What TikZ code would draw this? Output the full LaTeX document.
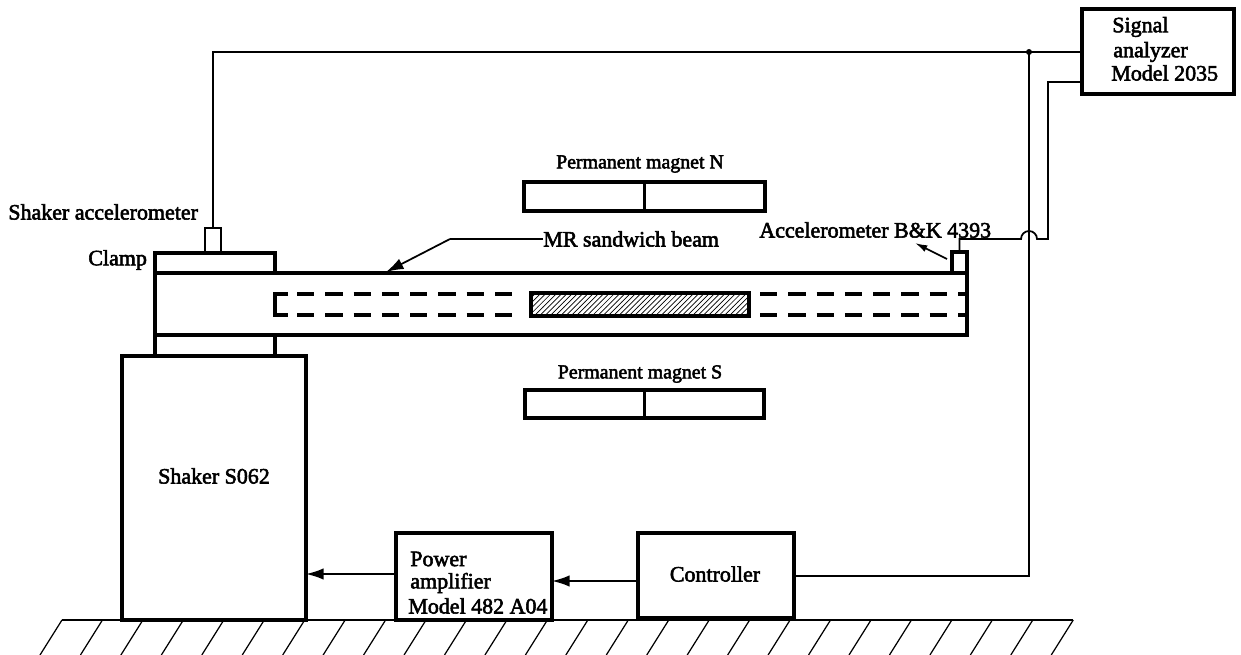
\documentclass[tikz,border=0pt]{standalone}
\usepackage{fontspec}
\setmainfont{Liberation Serif}[RawFeature={embolden=2.5}]
\usetikzlibrary{arrows.meta,patterns}
\tikzset{
	box/.style={draw, line width=2.1pt, inner sep=0pt, outer sep=0pt, anchor=north west},
	thinbox/.style={draw, line width=0.9pt, inner sep=0pt, outer sep=0pt, anchor=north west},
	beam/.style={line width=2.1pt},
	dashslot/.style={draw, line width=1.9pt, dash pattern=on 9.8pt off 6.3pt},
	wire/.style={line width=1pt},
	pointer/.style={line width=1pt, -{Latex[length=10pt,width=6.5pt]}},
	ground/.style={line width=0.7pt},
	lbl/.style={font=\fontsize{12.5pt}{14pt}\selectfont, inner sep=0pt},
	lblleft/.style={lbl, anchor=west},
	maglbl/.style={lbl, font=\fontsize{11.3pt}{14pt}\selectfont}
}
\begin{document}
\begin{tikzpicture}[x=0.02cm, y=-0.02cm]
\useasboundingbox (0,0) rectangle (1241,655);

% ground
\draw[ground] (62,620) -- (1073,620);
\foreach \x in {62,102.45,...,1073.5}
{
	\draw[ground] (\x,620) -- (\x-22,655);
}

% boxes
\node[box, minimum width=152*0.02cm, minimum height=85*0.02cm] (analyzer) at (1082,9) {};
\node[box, minimum width=184*0.02cm, minimum height=264*0.02cm] (shaker) at (122,356) {};
\node[box, minimum width=156*0.02cm, minimum height=87*0.02cm] (amp) at (396,533) {};
\node[box, minimum width=156*0.02cm, minimum height=85*0.02cm] (controller) at (638,533) {};

% beam
\draw[beam] (155,273) rectangle (967,335);
\draw[beam] (155,253) rectangle (275,273);
\draw[beam] (155,335) rectangle (275,356);
\draw[dashslot] (297,294) -- (513,294);
\draw[dashslot] (297,315) -- (513,315);
\draw[beam] (288,294) -- (275,294) -- (275,315) -- (288,315);
\draw[dashslot] (760,294) -- (967,294);
\draw[dashslot] (760,315) -- (967,315);
\filldraw[beam, pattern=north east lines] (531,293) rectangle (749,316);

% magnets
\node[box, minimum width=241*0.02cm, minimum height=29*0.02cm] (magnetN) at (524,182) {};
\draw[beam] (magnetN.north) -- (magnetN.south);
\node[box, minimum width=239*0.02cm, minimum height=28*0.02cm] (magnetS) at (525,390) {};
\draw[beam] (magnetS.north) -- (magnetS.south);

% accelerometers
\node[thinbox, minimum width=16*0.02cm, minimum height=24*0.02cm] (shakeracc) at (205,228) {};
\node[box, minimum width=15*0.02cm, minimum height=21*0.02cm] (tipacc) at (952,252) {};

% wires
\coordinate (junction) at (1029,52);
\coordinate (lowcorner) at (1048,82);
\coordinate (bridgeR) at (1037,239);
\coordinate (bridgeL) at (1021,239);
\draw[wire] (shakeracc.north) |- (junction) -- (analyzer.west |- junction);
\fill (junction) circle (3);
\draw[wire] (junction) |- (controller.east |- 0,576);
\draw[wire] (analyzer.west |- lowcorner) -- (lowcorner) -- (lowcorner |- bridgeR) -- (bridgeR)
	arc (360:180:8) -- (tipacc.north |- bridgeL) -- (tipacc.north);
\draw[pointer] (controller.west |- 0,581) -- (amp.east |- 0,581);
\draw[pointer] (amp.west |- 0,574) -- (shaker.east |- 0,574);

% labels
\node[lblleft] (shakeracclbl) at (8,212) {Shaker accelerometer};
\node[lblleft] (clamplbl) at (88,260) {Clamp};
\node[maglbl] (magnetNlbl) at (640,164) {Permanent magnet N};
\node[maglbl] (magnetSlbl) at (640,374) {Permanent magnet S};
\node[lblleft] (beamlbl) at (543,239) {MR sandwich beam};
\node[lblleft] (tipacclbl) at (759,230) {Accelerometer B\&K 4393};
\node[lblleft] (signallbl) at (1112,27) {Signal};
\node[lblleft] (analyzerlbl) at (1113,52) {analyzer};
\node[lblleft] (modellbl) at (1111,73) {Model 2035};
\node[lbl] (shakerlbl) at (214,476) {Shaker S062};
\node[lblleft] (powerlbl) at (410,559) {Power};
\node[lblleft] (amplbl) at (410,583) {amplifier};
\node[lblleft] (amodellbl) at (408,606) {Model 482 A04};
\node[lbl] (controllerlbl) at (715,574) {Controller};

% leaders
\coordinate (beamknee) at (450,239);
\coordinate (beamtip) at (386,272);
\coordinate (acctail) at (947,259);
\coordinate (acctip) at (915,243);
\draw[wire] (beamlbl.west) -- (beamknee);
\draw[pointer] (beamknee) -- (beamtip);
\draw[pointer, -{Latex[length=7pt,width=4pt]}] (acctail) -- (acctip);
\end{tikzpicture}
\end{document}
